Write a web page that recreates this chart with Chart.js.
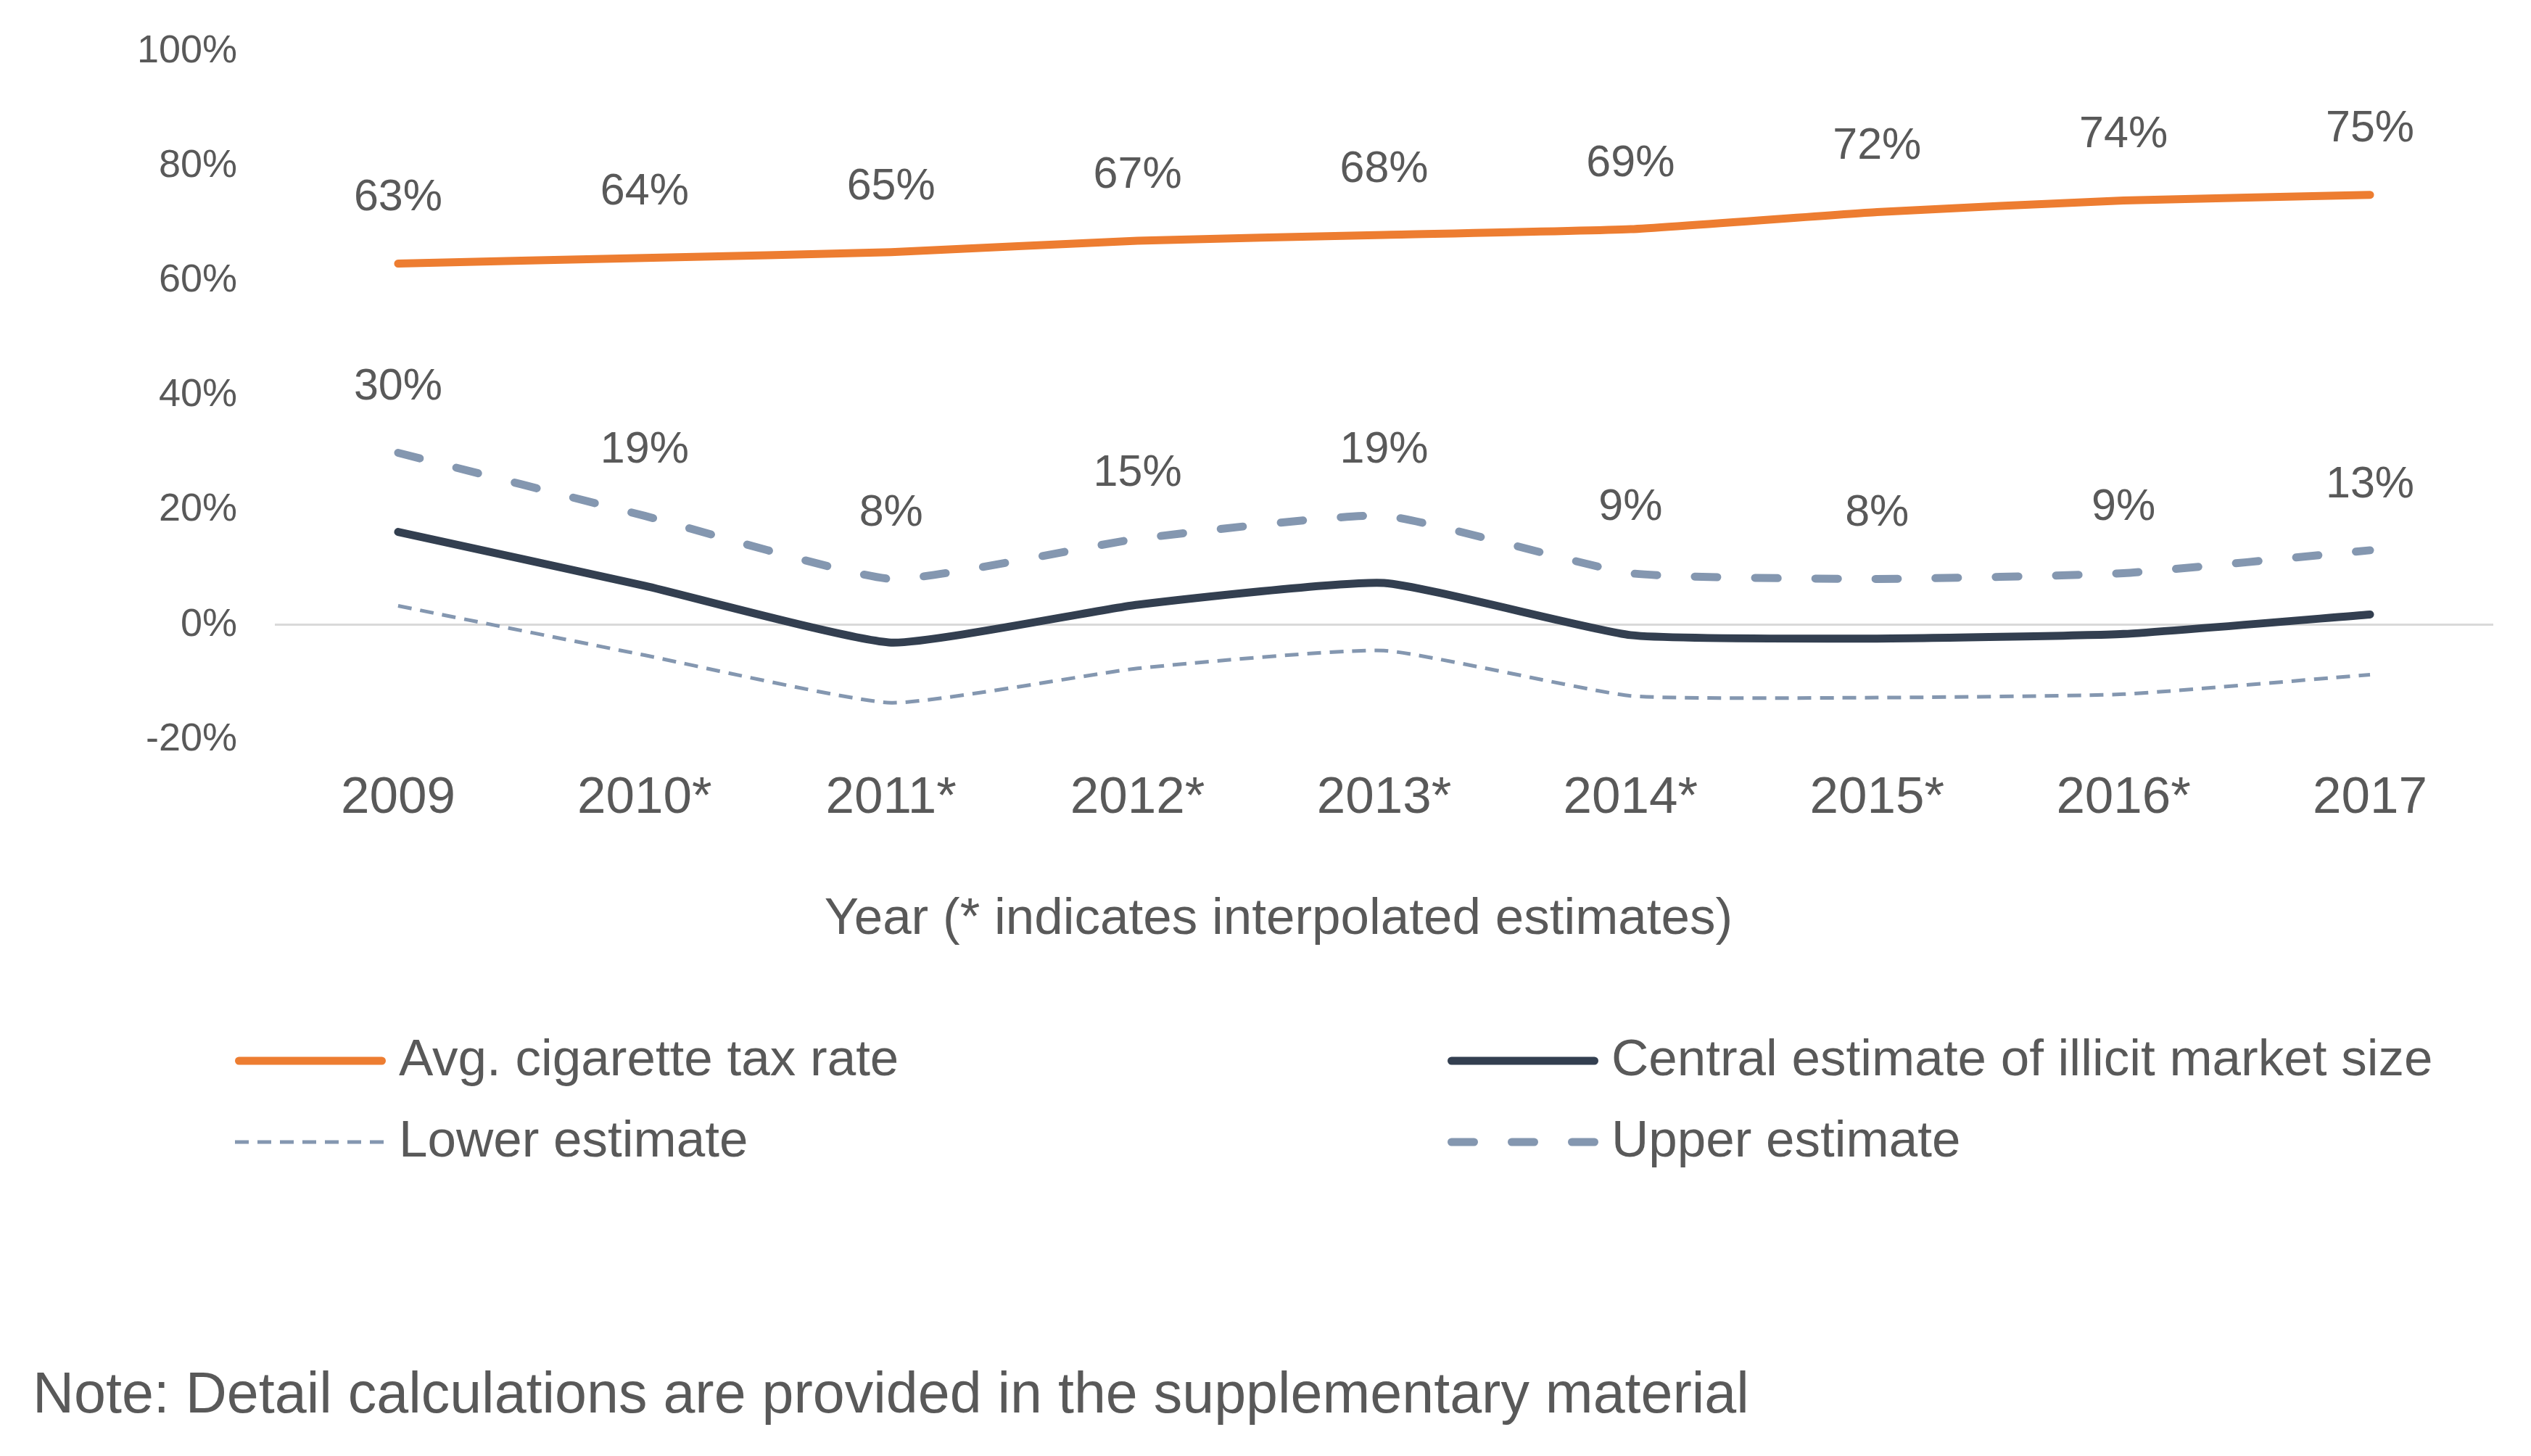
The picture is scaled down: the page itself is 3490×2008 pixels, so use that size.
<!DOCTYPE html>
<html>
<head>
<meta charset="utf-8">
<script src="https://cdn.jsdelivr.net/npm/chart.js@4"></script>
<style>
  html, body { margin: 0; padding: 0; background: #fff; }
  #wrap { width: 3490px; height: 2008px; }
</style>
</head>
<body>
<div id="wrap"><canvas id="taxChart"></canvas></div>
<script>
const years = ['2009', '2010*', '2011*', '2012*', '2013*', '2014*', '2015*', '2016*', '2017'];
const taxRate = [63, 64, 65, 67, 68, 69, 72, 74, 75];
const centralEst = [16.2, 6.8, -3.1, 3.5, 7.3, -1.8, -2.4, -1.6, 1.8];
const lowerEst = [3.3, -5.3, -13.6, -7.6, -4.5, -12.4, -12.7, -12.1, -8.7];
const upperEst = [30, 19, 8, 15, 19, 9, 8, 9, 13];
const yTicks = [-20, 0, 20, 40, 60, 80, 100];

const FONT = '"Liberation Sans", Arial, sans-serif';
const GREY = '#595959';

// etiquetas de valor encima de la linea naranja y la estimacion alta
const valueLabels = {
  id: 'valueLabels',
  afterDatasetsDraw(chart) {
    const ctx = chart.ctx;
    ctx.save();
    ctx.font = '61px ' + FONT;
    ctx.fillStyle = GREY;
    ctx.textAlign = 'center';
    ctx.textBaseline = 'middle';
    chart.data.datasets.forEach((ds, i) => {
      if (!ds.showValues) return;
      chart.getDatasetMeta(i).data.forEach((pt, j) => {
        ctx.fillText(Math.round(ds.data[j]) + '%', pt.x, pt.y - 90);
      });
    });
    ctx.restore();
  }
};

// titulo del eje, leyenda en dos columnas y nota al pie
const legendAndNote = {
  id: 'legendAndNote',
  afterDraw(chart) {
    const ctx = chart.ctx;
    const slots = [[324, 1463], [1996, 1463], [324, 1575], [1996, 1575]];
    ctx.save();
    ctx.fillStyle = GREY;
    ctx.textBaseline = 'middle';
    ctx.font = '71px ' + FONT;
    ctx.textAlign = 'center';
    ctx.fillText('Year (* indicates interpolated estimates)', 1763, 1268);
    chart.data.datasets.forEach((ds, k) => {
      const [x, y] = slots[k];
      ctx.beginPath();
      ctx.strokeStyle = ds.borderColor;
      ctx.lineWidth = ds.borderWidth;
      ctx.lineCap = ds.borderCapStyle || 'butt';
      ctx.setLineDash(ds.borderDash || []);
      const capPad = ds.borderCapStyle === 'round' ? ds.borderWidth / 2 : 0;
      ctx.moveTo(x + capPad, y);
      ctx.lineTo(x + 208 - capPad, y);
      ctx.stroke();
      ctx.setLineDash([]);
      ctx.textAlign = 'left';
      ctx.fillText(ds.label, x + 226, y);
    });
    ctx.font = '79px ' + FONT;
    ctx.fillText('Note: Detail calculations are provided in the supplementary material', 45, 1926);
    ctx.restore();
  }
};

const ctx = document.getElementById('taxChart').getContext('2d');
new Chart(ctx, {
  type: 'line',
  data: {
    labels: years,
    datasets: [
      {
        label: 'Avg. cigarette tax rate',
        data: taxRate,
        borderColor: '#ED7D31',
        borderWidth: 11,
        borderCapStyle: 'round',
        tension: 0.15,
        pointRadius: 0,
        showValues: true
      },
      {
        label: 'Central estimate of illicit market size',
        data: centralEst,
        borderColor: '#333F50',
        borderWidth: 11,
        borderCapStyle: 'round',
        tension: 0.15,
        pointRadius: 0
      },
      {
        label: 'Lower estimate',
        data: lowerEst,
        borderColor: '#8497B0',
        borderWidth: 5,
        borderDash: [19, 12],
        tension: 0.15,
        pointRadius: 0
      },
      {
        label: 'Upper estimate',
        data: upperEst,
        borderColor: '#8497B0',
        borderWidth: 11,
        borderDash: [31, 52],
        borderCapStyle: 'round',
        tension: 0.15,
        pointRadius: 0,
        showValues: true
      }
    ]
  },
  options: {
    responsive: true,
    maintainAspectRatio: false,
    devicePixelRatio: 1,
    animation: false,
    layout: { padding: { top: 71, right: 52, bottom: 825, left: 0 } },
    plugins: {
      legend: { display: false },
      tooltip: { enabled: false }
    },
    scales: {
      x: {
        offset: true,
        grid: { display: false, drawTicks: false, offset: true },
        border: { display: false },
        ticks: { color: GREY, font: { family: FONT, size: 71 }, padding: 39, maxRotation: 0 }
      },
      y: {
        min: -20,
        max: 100,
        afterFit: s => {
          s.width = 379;
          s.paddingTop = 0;
          s.paddingBottom = 0;
        },
        afterBuildTicks: s => { s.ticks = yTicks.map(v => ({ value: v })); },
        grid: {
          drawTicks: false,
          lineWidth: 3,
          color: c => (c.tick && c.tick.value === 0 ? '#D9D9D9' : 'rgba(0,0,0,0)')
        },
        border: { display: false },
        ticks: {
          color: GREY,
          font: { family: FONT, size: 54 },
          padding: 52,
          callback: v => v + '%'
        }
      }
    }
  },
  plugins: [valueLabels, legendAndNote]
});
</script>
</body>
</html>
